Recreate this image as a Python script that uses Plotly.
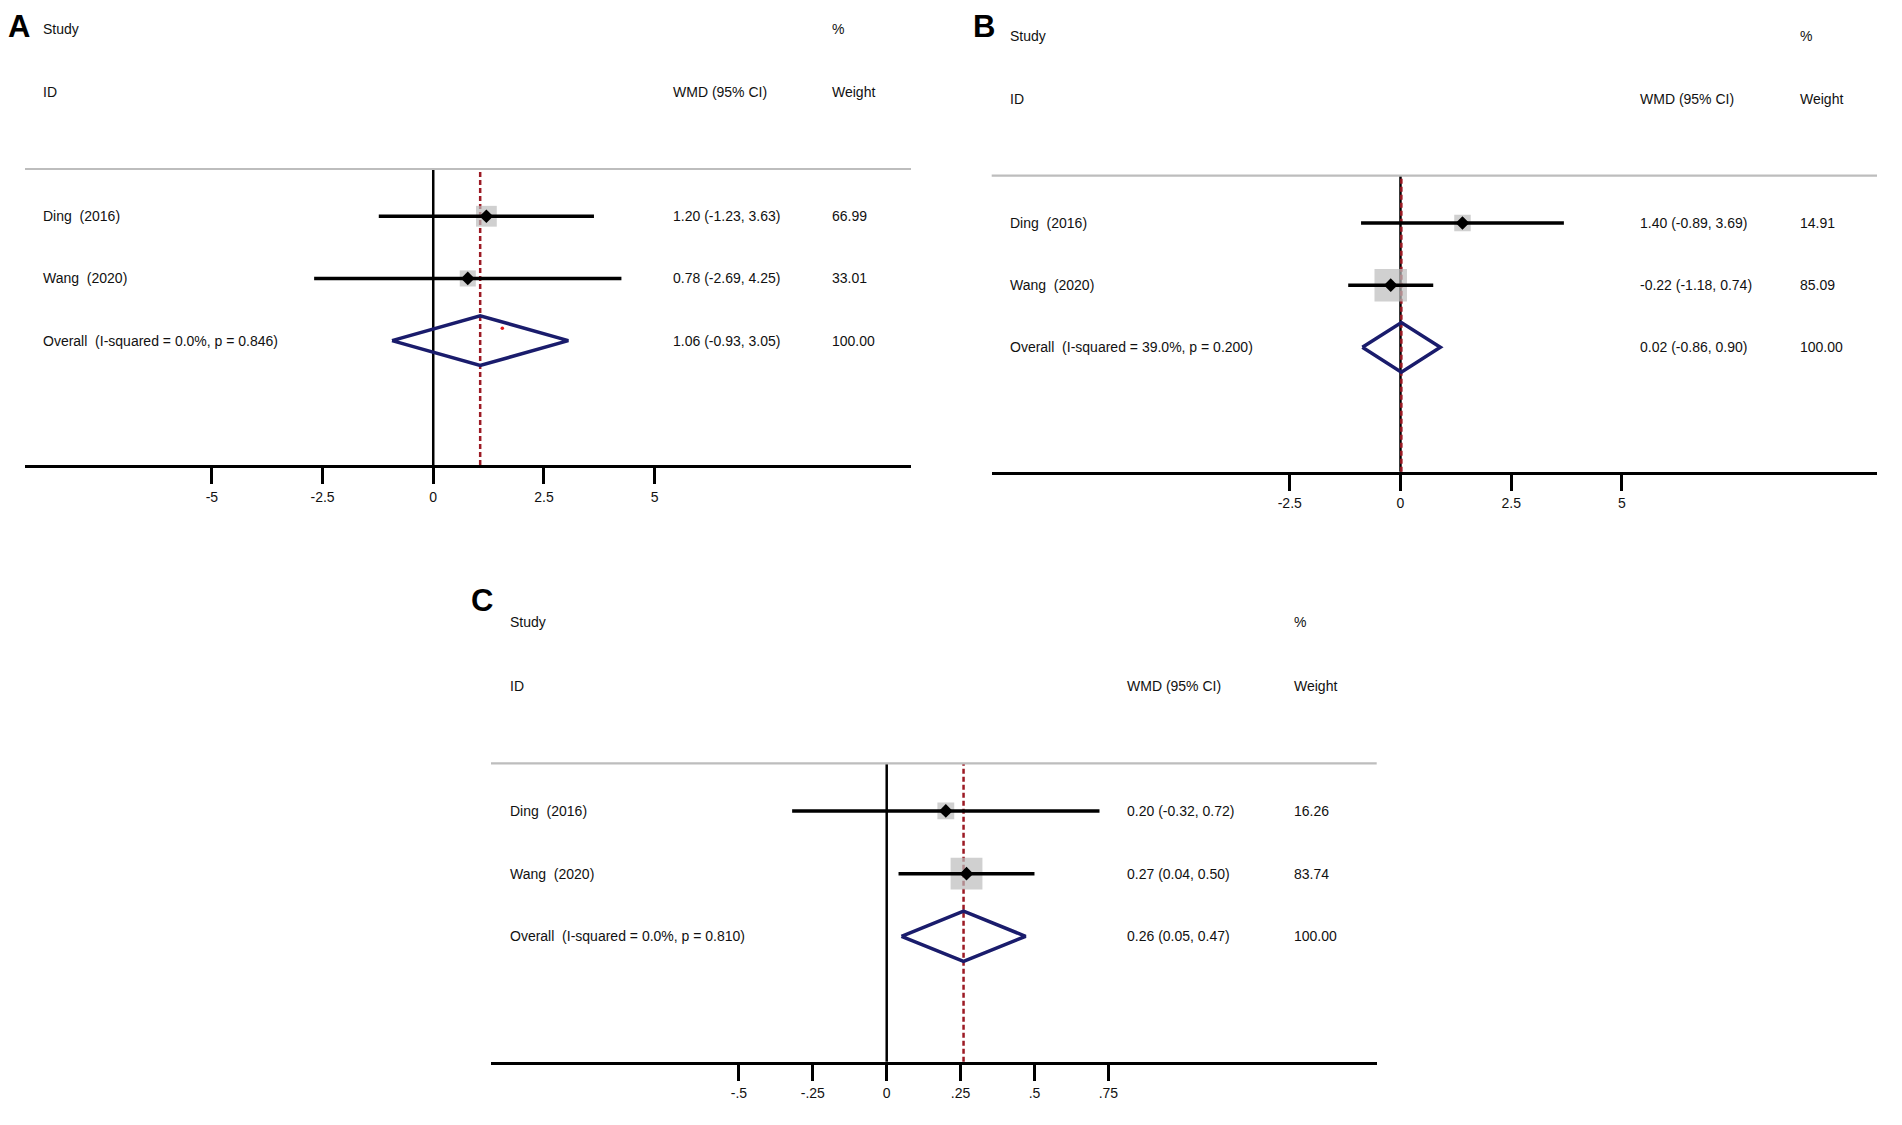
import plotly.graph_objects as go

# study rows (shared by the three panels)
study_labels = ["Ding\u00a0 (2016)", "Wang\u00a0 (2020)"]

# panel A
a_est = [1.20, 0.78]
a_lo = [-1.23, -2.69]
a_hi = [3.63, 4.25]
a_weight = [66.99, 33.01]
a_overall = [1.06, -0.93, 3.05]
a_i2 = "0.0%"
a_p = "0.846"
a_ticks = [-5, -2.5, 0, 2.5, 5]
a_ticklabels = ["-5", "-2.5", "0", "2.5", "5"]

# panel B
b_est = [1.40, -0.22]
b_lo = [-0.89, -1.18]
b_hi = [3.69, 0.74]
b_weight = [14.91, 85.09]
b_overall = [0.02, -0.86, 0.90]
b_i2 = "39.0%"
b_p = "0.200"
b_ticks = [-2.5, 0, 2.5, 5]
b_ticklabels = ["-2.5", "0", "2.5", "5"]

# panel C
c_est = [0.20, 0.27]
c_lo = [-0.32, 0.04]
c_hi = [0.72, 0.50]
c_weight = [16.26, 83.74]
c_overall = [0.26, 0.05, 0.47]
c_i2 = "0.0%"
c_p = "0.810"
c_ticks = [-0.5, -0.25, 0, 0.25, 0.5, 0.75]
c_ticklabels = ["-.5", "-.25", "0", ".25", ".5", ".75"]

# stray red dot visible inside the overall diamond of panel A
a_dot_x = [1.56]
a_dot_y = [-1.80]

W, H = 1902, 1125
OFF = 8  # the page body adds an 8px margin around the plot div
FONT = "Liberation Sans, Arial, sans-serif"
TXT = "#111111"


def dom_x(l, r):
    return [(l - OFF) / W, (r - OFF) / W]


def dom_y(top, bottom):
    return [1 - (bottom - OFF) / H, 1 - (top - OFF) / H]


# letter_pos: x in panel domain units, y = None pins the letter to the top
panels = [
    dict(letter="A", est=a_est, lo=a_lo, hi=a_hi, w=a_weight, ov=a_overall,
         i2=a_i2, p=a_p, ticks=a_ticks, ticklabels=a_ticklabels,
         xdom=dom_x(25, 911), ydom=dom_y(169, 465),
         xrange=[-9.22, 10.79], box=1.93,
         cols=[0.019, 0.730, 0.910], letter_pos=[-0.007, None]),
    dict(letter="B", est=b_est, lo=b_lo, hi=b_hi, w=b_weight, ov=b_overall,
         i2=b_i2, p=b_p, ticks=b_ticks, ticklabels=b_ticklabels,
         xdom=dom_x(991.7, 1877), ydom=dom_y(175.7, 471.7),
         xrange=[-9.23, 10.76], box=2.98,
         cols=[0.0195, 0.7307, 0.912], letter_pos=[-0.009, None]),
    dict(letter="C", est=c_est, lo=c_lo, hi=c_hi, w=c_weight, ov=c_overall,
         i2=c_i2, p=c_p, ticks=c_ticks, ticklabels=c_ticklabels,
         xdom=dom_x(491, 1376.7), ydom=dom_y(763.3, 1061.7),
         xrange=[-1.339, 1.658], box=2.93,
         cols=[0.0203, 0.717, 0.905], letter_pos=[-0.0096, 1.544]),
]

rows = [0, -1]
overall_row = -2
dh = 0.4  # half height of the pooled diamond, in rows

fig = go.Figure()
annotations = []
shapes = []
layout_axes = {}

for i, pn in enumerate(panels, start=1):
    sfx = "" if i == 1 else str(i)
    xr, yr = "x" + sfx, "y" + sfx

    # weight boxes (area grows with the study weight)
    fig.add_trace(go.Scatter(
        x=pn["est"], y=rows, mode="markers", xaxis=xr, yaxis=yr,
        marker=dict(symbol="square", color="#bcbcbc",
                    size=[5 + pn["box"] * w ** 0.5 for w in pn["w"]],
                    line=dict(width=0)),
        hoverinfo="skip", showlegend=False))

    # confidence intervals
    cx, cy = [], []
    for lo, hi, r in zip(pn["lo"], pn["hi"], rows):
        cx += [lo, hi, None]
        cy += [r, r, None]
    fig.add_trace(go.Scatter(
        x=cx, y=cy, mode="lines", xaxis=xr, yaxis=yr,
        line=dict(color="black", width=3.5),
        hoverinfo="skip", showlegend=False))

    # point estimates
    fig.add_trace(go.Scatter(
        x=pn["est"], y=rows, mode="markers", xaxis=xr, yaxis=yr,
        marker=dict(symbol="diamond", color="black", size=10.5),
        hoverinfo="skip", showlegend=False))

    # pooled diamond
    est, lo, hi = pn["ov"]
    fig.add_trace(go.Scatter(
        x=[lo, est, hi, est, lo],
        y=[overall_row, overall_row + dh, overall_row,
           overall_row - dh, overall_row],
        mode="lines", xaxis=xr, yaxis=yr,
        line=dict(color="#1a1c6c", width=3.5),
        hoverinfo="skip", showlegend=False))

    # zero line, pooled estimate line, top grey rule
    shapes.append(dict(type="line", xref=xr, yref=yr + " domain",
                       x0=0, x1=0, y0=0, y1=1, layer="below",
                       line=dict(color="black", width=2.5)))
    shapes.append(dict(type="line", xref=xr, yref=yr + " domain",
                       x0=est, x1=est, y0=0, y1=1, layer="below",
                       line=dict(color="#9c1a24", width=2.5,
                                 dash="5px,3px")))
    shapes.append(dict(type="line", xref=xr + " domain", yref=yr + " domain",
                       x0=0, x1=1, y0=1, y1=1,
                       line=dict(color="#bdbdbd", width=2.2)))

    layout_axes["xaxis" + sfx] = dict(
        domain=pn["xdom"], range=pn["xrange"], anchor=yr,
        tickvals=pn["ticks"], ticktext=pn["ticklabels"],
        ticks="outside", ticklen=16, tickwidth=2.5, tickcolor="black",
        ticklabelstandoff=1,
        showline=True, linewidth=2.8, linecolor="black",
        showgrid=False, zeroline=False, fixedrange=True,
        tickfont=dict(family=FONT, size=14, color=TXT))
    layout_axes["yaxis" + sfx] = dict(
        domain=pn["ydom"], range=[-4.0, 0.76], anchor=xr, visible=False,
        fixedrange=True)

    def note(text, x, y, yref, size=14, bold=False, anchor="left",
             vanchor="middle"):
        annotations.append(dict(
            text="<b>%s</b>" % text if bold else text,
            x=x, y=y, xref=xr + " domain", yref=yref,
            xanchor=anchor, yanchor=vanchor, showarrow=False,
            borderpad=0,
            font=dict(family=FONT, size=size, color="black" if bold else TXT)))

    c0, c1, c2 = pn["cols"]
    dref = yr + " domain"
    lx, ly = pn["letter_pos"]
    if ly is None:
        note(pn["letter"], lx, 1, "paper", size=31, bold=True,
             anchor="center", vanchor="top")
    else:
        note(pn["letter"], lx, ly, dref, size=31, bold=True, anchor="center")
    note("Study", c0, 1.472, dref)
    note("%", c2, 1.472, dref)
    note("ID", c0, 1.26, dref)
    note("WMD (95% CI)", c1, 1.26, dref)
    note("Weight", c2, 1.26, dref)

    for lab, e, l, h, w, r in zip(study_labels, pn["est"], pn["lo"],
                                  pn["hi"], pn["w"], rows):
        note(lab, c0, r, yr)
        note("%.2f (%.2f, %.2f)" % (e, l, h), c1, r, yr)
        note("%.2f" % w, c2, r, yr)

    note("Overall\u00a0 (I-squared = %s, p = %s)" % (pn["i2"], pn["p"]),
         c0, overall_row, yr)
    note("%.2f (%.2f, %.2f)" % (est, lo, hi), c1, overall_row, yr)
    note("%.2f" % sum(pn["w"]), c2, overall_row, yr)

fig.add_trace(go.Scatter(
    x=a_dot_x, y=a_dot_y, mode="markers", xaxis="x", yaxis="y",
    marker=dict(color="#e01818", size=3.5),
    hoverinfo="skip", showlegend=False))

fig.update_layout(
    width=W, height=H,
    margin=dict(l=0, r=0, t=0, b=0),
    paper_bgcolor="white", plot_bgcolor="white",
    showlegend=False,
    annotations=annotations, shapes=shapes,
    **layout_axes)

fig.write_html("out.html")
